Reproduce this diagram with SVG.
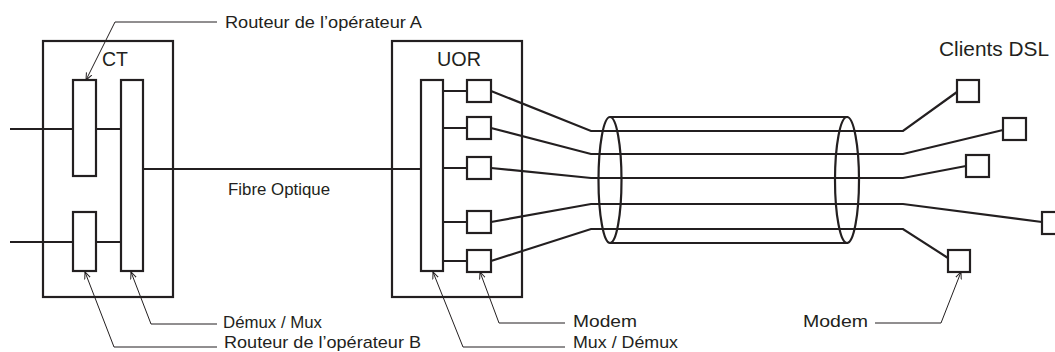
<svg xmlns="http://www.w3.org/2000/svg" width="1055" height="352" viewBox="0 0 1055 352">
<style>
.box{fill:none;stroke:#231f20;stroke-width:2.2}
.blk{fill:#fff;stroke:#231f20;stroke-width:2.2}
.wire{fill:none;stroke:#231f20;stroke-width:2.2}
.lead{fill:none;stroke:#231f20;stroke-width:1}
.lbl{font-family:"Liberation Sans",Arial,sans-serif;font-size:17px;fill:#231f20}
.big{font-family:"Liberation Sans",Arial,sans-serif;font-size:21px;fill:#231f20}
</style>
<defs>
<marker id="arr" markerWidth="8" markerHeight="8" refX="7" refY="4" orient="auto" markerUnits="userSpaceOnUse">
<path d="M0,1 L7,4 L0,7" fill="none" stroke="#231f20" stroke-width="1"/>
</marker>
</defs>
<rect width="1055" height="352" fill="#fff"/>

<g id="connectors">
<!-- CT inputs -->
<path class="wire" d="M10,129 H73 M96,129 H121 M10,242 H73 M96,242 H121"/>
<!-- fibre -->
<path class="wire" d="M143,169 H421"/>
<!-- mux to modems -->
<path class="wire" d="M443,91 H467 M443,128 H467 M443,168 H467 M443,222 H467 M443,261 H467"/>
<!-- modems to cable to clients -->
<path class="wire" d="M491,91 L591,131 H903 L957,92"/>
<path class="wire" d="M491,128 L591,154 H903 L1003,130"/>
<path class="wire" d="M491,168 L591,178 H903 L966,166"/>
<path class="wire" d="M491,222 L591,204 H903 L1042,222"/>
<path class="wire" d="M491,261 L591,229 H903 L948,258"/>
</g>

<g id="cable">
<path class="wire" d="M610,117 H848 M610,243 H848"/>
<ellipse class="wire" cx="610" cy="180" rx="11.5" ry="63"/>
<ellipse class="wire" cx="847" cy="180" rx="12" ry="63"/>
</g>

<g id="ct">
<rect class="box" x="43" y="41" width="130" height="256"/>
<text class="big" x="102" y="66" textLength="26" lengthAdjust="spacingAndGlyphs">CT</text>
</g>
<g id="routeurA"><rect class="blk" x="73" y="80" width="23" height="96"/></g>
<g id="routeurB"><rect class="blk" x="73" y="212" width="23" height="59"/></g>
<g id="demux"><rect class="blk" x="121" y="80" width="22" height="191"/></g>

<g id="uor">
<rect class="box" x="392" y="41" width="130" height="256"/>
<text class="big" x="437" y="66" textLength="44" lengthAdjust="spacingAndGlyphs">UOR</text>
</g>
<g id="mux"><rect class="blk" x="421" y="80" width="22" height="191"/></g>
<g id="modem1"><rect class="blk" x="467" y="80" width="24" height="22"/></g>
<g id="modem2"><rect class="blk" x="467" y="117" width="24" height="22"/></g>
<g id="modem3"><rect class="blk" x="467" y="157" width="24" height="22"/></g>
<g id="modem4"><rect class="blk" x="467" y="211" width="24" height="22"/></g>
<g id="modem5"><rect class="blk" x="467" y="250" width="24" height="22"/></g>

<g id="client1"><rect class="blk" x="957" y="80" width="22" height="22"/></g>
<g id="client2"><rect class="blk" x="1003" y="118" width="23" height="22"/></g>
<g id="client3"><rect class="blk" x="966" y="155" width="23" height="22"/></g>
<g id="client4"><rect class="blk" x="1042" y="212" width="23" height="22"/></g>
<g id="client5"><rect class="blk" x="948" y="250" width="22" height="22"/></g>

<g id="leaders">
<path class="lead" d="M217,22 H115 L86,80" marker-end="url(#arr)"/>
<path class="lead" d="M217,324 H151 L131,272" marker-end="url(#arr)"/>
<path class="lead" d="M217,347 H114 L85,272" marker-end="url(#arr)"/>
<path class="lead" d="M565,323 H499 L480,272" marker-end="url(#arr)"/>
<path class="lead" d="M565,347 H463 L433,272" marker-end="url(#arr)"/>
<path class="lead" d="M875,323 H941 L961,272" marker-end="url(#arr)"/>
</g>

<g id="labels">
<text class="lbl" x="225" y="28" textLength="197" lengthAdjust="spacingAndGlyphs">Routeur de l’opérateur A</text>
<text class="lbl" x="228" y="195" textLength="102" lengthAdjust="spacingAndGlyphs">Fibre Optique</text>
<text class="lbl" x="223" y="328" textLength="99" lengthAdjust="spacingAndGlyphs">Démux / Mux</text>
<text class="lbl" x="224" y="348" textLength="197" lengthAdjust="spacingAndGlyphs">Routeur de l’opérateur B</text>
<text class="lbl" x="573" y="327" textLength="64" lengthAdjust="spacingAndGlyphs">Modem</text>
<text class="lbl" x="573" y="348" textLength="105" lengthAdjust="spacingAndGlyphs">Mux / Démux</text>
<text class="lbl" x="803" y="327" textLength="65" lengthAdjust="spacingAndGlyphs">Modem</text>
<text class="big" x="939" y="56" textLength="110" lengthAdjust="spacingAndGlyphs">Clients DSL</text>
</g>
</svg>
